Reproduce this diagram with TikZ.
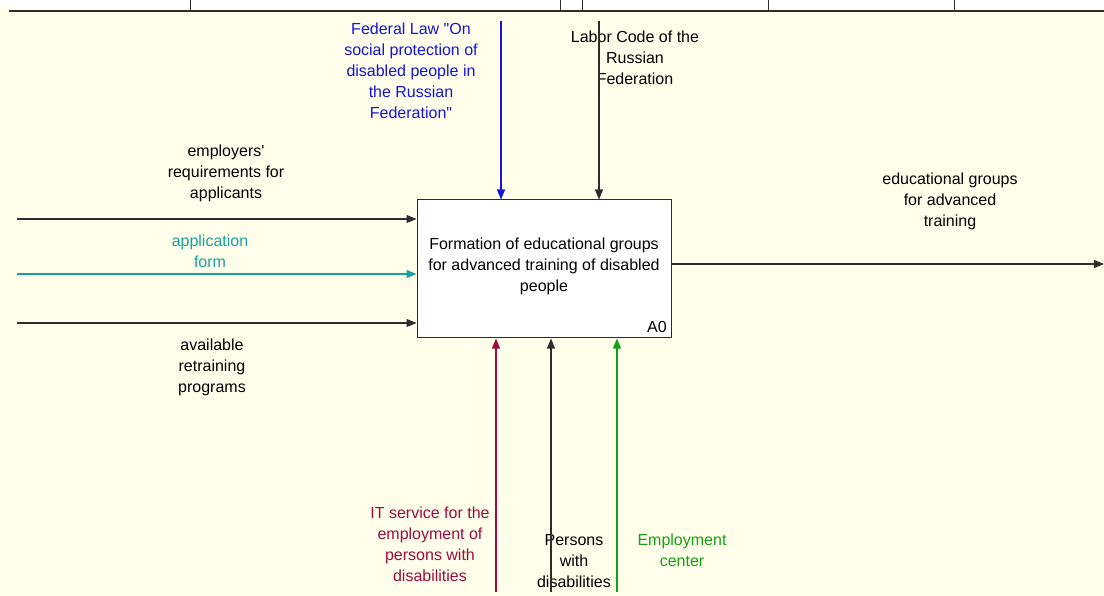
\documentclass[tikz,border=0pt]{standalone}
\usepackage{fontspec}
\setmainfont{Liberation Sans}[Ligatures=TeXOff]
\usetikzlibrary{arrows.meta}
\definecolor{paper}{RGB}{255,255,236}
\definecolor{lawblue}{RGB}{20,20,220}
\definecolor{formteal}{RGB}{25,160,160}
\definecolor{itred}{RGB}{160,10,60}
\definecolor{centergreen}{RGB}{20,160,20}
\definecolor{wire}{RGB}{45,45,45}

\begin{document}
\begin{tikzpicture}[x=1pt,y=-1pt,
  lbl/.style={align=center,inner sep=0pt,font=\fontsize{16}{21}\selectfont},
  arr/.style={line width=1.1pt,-{Triangle[length=10pt,width=8pt]}},
  ]
\useasboundingbox (0,0) rectangle (1104,596);
\fill[white] (0,0) rectangle (1104,596);
\fill[paper] (0,8) rectangle (1104,596);

% frame rule at the top with its column ticks
\draw[line width=1.5pt,wire] (9,11) -- (1104,11);
\foreach \t in {190,560,582,768,954}
  \draw[line width=1pt,wire] (\t,0) -- (\t,11);

% activity box
\node[draw=wire,fill=white,line width=1pt,minimum width=254pt,
      minimum height=138pt,inner sep=0pt] (act) at (544,269) {};
\node[lbl] (acttxt) at (544,266.5)
  {Formation of educational groups\\for advanced training of disabled\\people};
\node[lbl,anchor=south east] (num) at (667,333) {A0};

% arrow labels
\node[lbl] (lreq) at (226,173.5) {employers'\\requirements for\\applicants};
\node[lbl,text=formteal] (lform) at (210,251) {application\\form};
\node[lbl] (lprog) at (212,367.5) {available\\retraining\\programs};
\node[lbl] (lout) at (950,201.5) {educational groups\\for advanced\\training};
\node[lbl,text=lawblue] (llaw) at (411,71)
  {Federal Law "On\\social protection of\\disabled people in\\the Russian\\Federation"};
\node[lbl] (lcode) at (635,57.5) {Labor Code of the\\Russian\\Federation};
\node[lbl,text=itred] (lit) at (430,544)
  {IT service for the\\employment of\\persons with\\disabilities};
\node[lbl] (lpers) at (574,561) {Persons\\with\\disabilities};
\node[lbl,text=centergreen] (lcenter) at (682,550.5) {Employment\\center};

% free ends of the arrows
\coordinate (in1) at (17,219);
\coordinate (in2) at (17,274);
\coordinate (in3) at (17,323);
\coordinate (out1) at (1104,264);
\coordinate (c1) at (501,21);
\coordinate (c2) at (599,21);
\coordinate (m1) at (496,592);
\coordinate (m2) at (551,592);
\coordinate (m3) at (617,592);

% inputs
\draw[arr,wire] (in1) -- (in1 -| act.west);
\draw[arr,formteal] (in2) -- (in2 -| act.west);
\draw[arr,wire] (in3) -- (in3 -| act.west);
% output
\draw[arr,wire] (out1 -| act.east) -- (out1);
% controls
\draw[arr,lawblue] (c1) -- (c1 |- act.north);
\draw[arr,wire] (c2) -- (c2 |- act.north);
% mechanisms
\draw[arr,itred] (m1) -- (m1 |- act.south);
\draw[arr,wire] (m2) -- (m2 |- act.south);
\draw[arr,centergreen] (m3) -- (m3 |- act.south);
\end{tikzpicture}
\end{document}
